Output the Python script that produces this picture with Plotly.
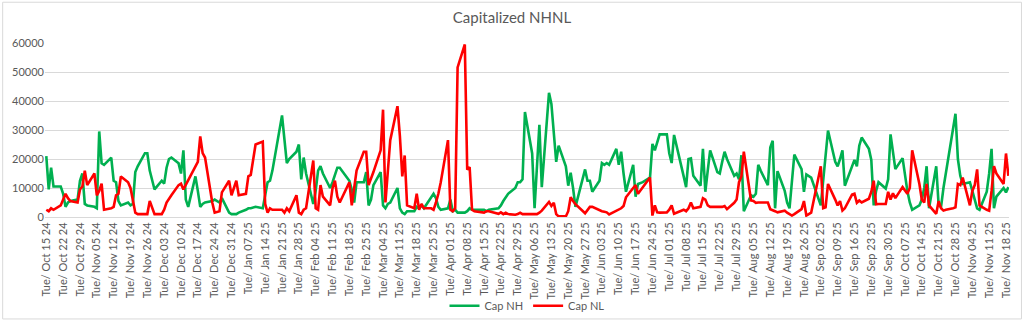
import pandas as pd
import plotly.graph_objects as go

# ---- data (one line per week, trading days only) ----
cap_nh = [
    21000, 9500, 17000, 10500,
    10500, 8000, 3500, 5000, 5500,
    6000, 12500, 15000, 4500, 4000,
    3500, 3000, 29500, 18500, 18000,
    20500, 12500, 12000, 5500, 4000,
    5000, 4000, 4500, 15500, 17500,
    22000, 22000, 16000, 9500,
    12500, 11500, 17000, 20000, 20500,
    18500, 15000, 23000, 6000, 3500,
    14000, 9000, 3500, 4500, 5000,
    5500, 6000, 5000, 6500,
    1500, 1000, 1000, 1500,
    2500, 3000, 3000, 3500,
    3000, 8000, 12000, 12500, 16000,
    35000, 27000, 18600, 20000,
    22500, 25000, 13000, 20500, 15000,
    4500, 9000, 16000, 17500, 15000,
    10000, 12000, 14500, 17000, 17000,
    12500, 9500, 5000, 12000,
    12000, 15500, 4000, 6000, 11000,
    15500, 4000, 3000, 4500, 5000,
    10000, 3000, 1500, 1000, 2000,
    2000, 3500, 3000, 4000, 3000,
    7000, 8000, 6500, 3500, 2500,
    3000, 6000, 2000, 2500, 1500,
    1500, 2000, 3000, 2500, 2500,
    2500, 2500, 2000, 2500,
    3000, 4000, 5500, 7000, 8000,
    10000, 12000, 12000, 13000, 36200,
    21900, 3000, 17000, 31800, 10300,
    42800, 39000, 29000, 19000, 24600,
    17500, 10800, 15300, 10000, 3500,
    16400, 12500, 12500, 8700,
    12500, 18600, 18000, 18600, 18000,
    23500, 18000, 22500, 15000, 8700,
    18000, 7000, 11400, 12000,
    13600, 25200, 23000, 26000, 28500,
    28500, 22000, 18600, 28300,
    14000, 10300, 20000, 20200, 14200,
    10800, 23500, 8700, 16000, 23000,
    15500, 15000, 19000, 22500, 20000,
    14200, 15000, 13000, 21300, 2000,
    7500, 7000, 8000, 18000, 16000,
    11000, 24000, 26300, 3000, 15800,
    9000, 5000, 3000, 12000, 21500,
    16500, 8700, 14700, 14000, 13600,
    4000, 12000, 22000, 29800,
    19000, 17500, 20000, 23000, 10800,
    17500, 19700, 17500, 24600, 27400,
    23500, 19700, 4000, 9000, 12000,
    9800, 13000, 28500, 22000, 16500,
    20300, 14200, 9000, 5000, 2500,
    4000, 6000, 10000, 17500, 3000,
    17500, 4000, 3500, 10000, 15300,
    31000, 35600, 20000, 14200, 11400,
    12000, 9000, 6000, 3000, 2500,
    8700, 15000, 23500, 3000, 7000,
    10000, 8500, 10300,
]

cap_nl = [
    2500, 2000, 3000, 2500,
    4000, 6000, 8000, 6500, 5500,
    5000, 9500, 10500, 16000, 11000,
    15000, 7500, 9000, 11500, 2500,
    3000, 3500, 7500, 8000, 14000,
    12000, 10000, 6000, 1500, 1000,
    1000, 1000, 5500, 1000,
    1000, 2500, 5000, 6500, 7500,
    11000, 11500, 9500, 11000, 12500,
    17000, 19000, 27800, 22000, 20500,
    5000, 1500, 2000, 8500,
    12500, 7500, 12500, 7500,
    8000, 14000, 14500, 25000,
    26000, 4500, 1500, 3000, 2500,
    2500, 1500, 3000, 2000,
    7500, 1500, 1000, 2500, 3000,
    19500, 3000, 2500, 11000, 7000,
    4000, 10000, 12500, 7000, 5000,
    12000, 4000, 11000, 16000,
    22500, 22500, 11000, 13000, 15500,
    23000, 37000, 5000, 16000, 26500,
    38200, 28000, 14000, 21200, 4000,
    3000, 8000, 2500, 4500, 3000,
    3000, 2500, 5000, 8000, 12000,
    26500, 2500, 2000, 3000, 51600,
    59500, 16300, 17200, 2500, 2000,
    1500, 1500, 2000, 2000,
    1100, 1600, 1000, 1500, 1000,
    800, 1000, 1500, 1000, 1000,
    900, 900, 1000, 1500, 2200,
    5200, 3800, 4900, 1000, 200,
    200, 2000, 6800, 5500, 4400,
    1300, 2500, 3500, 3500,
    2200, 2000, 1800, 1600, 900,
    2000, 2500, 3000, 3800, 6800,
    10000, 11000, 8000, 10300,
    13600, 500, 4000, 1600, 1500,
    1600, 2500, 4000, 1100,
    2500, 2000, 3000, 5000, 3000,
    3500, 6500, 6000, 4000, 3500,
    3500, 3500, 3500, 3800, 2700,
    4900, 6000, 12000, 14000, 22500,
    5700, 5500, 4900, 5000, 5000,
    5000, 2700, 2200, 2000, 1600,
    2200, 1500, 1000, 500, 1000,
    2700, 5500, 500, 1000, 1500,
    17500, 3000, 3300, 11400,
    6000, 4000, 5500, 2200, 3000,
    7700, 8000, 4900, 5700, 5000,
    6300, 8700, 12500, 4400, 4500,
    4500, 8700, 6000, 8200, 6500,
    10300, 9000, 8000, 10000, 23000,
    11400, 6000, 5000, 11400, 4000,
    1100, 5500, 3000, 2200, 2500,
    3000, 3300, 11400, 11000, 13600,
    4000, 9000, 11000, 16400, 4000,
    2500, 2200, 9000, 17500, 15000,
    11400, 21900, 14200,
]

market_holidays = ["2024-11-28", "2024-12-25", "2025-01-01", "2025-01-09", "2025-01-20",
                   "2025-02-17", "2025-04-18", "2025-05-26", "2025-06-19", "2025-07-04",
                   "2025-09-01"]
first_day, last_day = "2024-10-15", "2025-11-19"

days = pd.bdate_range(first_day, last_day)
days = days[~days.isin(pd.to_datetime(market_holidays))]
n = min(len(days), len(cap_nh), len(cap_nl))
days = days[:n]

tick_days = pd.date_range("2024-10-15", "2025-11-18", freq="7D")
tick_labels = [f"Tue/ {d:%b %d %y}" for d in tick_days]

GREY_TXT = "#595959"
FONT = "Lato"

fig = go.Figure()
fig.add_trace(go.Scatter(x=days, y=cap_nh[:n], mode="lines", name="Cap NH",
                         line=dict(color="#00B050", width=2.6)))
fig.add_trace(go.Scatter(x=days, y=cap_nl[:n], mode="lines", name="Cap NL",
                         line=dict(color="#FF0000", width=2.6)))

fig.update_layout(
    width=1024, height=332,
    margin=dict(l=43, r=13, t=43, b=107),
    paper_bgcolor="white", plot_bgcolor="white",
    font=dict(family=FONT, color=GREY_TXT, size=11),
    title=dict(text="Capitalized NHNL", x=0.5, xanchor="center",
               y=1 - 18 / 332, yanchor="middle", yref="container",
               font=dict(family=FONT, size=15, color=GREY_TXT)),
    showlegend=True,
    legend=dict(orientation="h", x=0.5, xanchor="center", y=-0.51, yanchor="middle",
                font=dict(family=FONT, size=11, color=GREY_TXT), itemwidth=30,
                bgcolor="rgba(0,0,0,0)"),
    shapes=[dict(type="rect", xref="paper", yref="paper",
                 x0=-43 / 968 + 0.0005, x1=1 + 13 / 968 - 0.0005,
                 y0=-107 / 182 + 0.002, y1=1 + 43 / 182 - 0.002,
                 line=dict(color="#D9D9D9", width=1), fillcolor="rgba(0,0,0,0)",
                 layer="below")],
)

fig.update_xaxes(
    type="date",
    range=["2024-10-14 11:00", "2025-11-19 06:00"],
    tickmode="array", tickvals=tick_days, ticktext=tick_labels,
    tickangle=-90, tickfont=dict(family=FONT, size=11, color=GREY_TXT),
    showgrid=False, showline=True, linecolor="#D9D9D9", linewidth=1,
    ticks="", zeroline=False,
)
fig.update_yaxes(
    range=[0, 60000], dtick=10000, tickformat="d",
    showgrid=True, gridcolor="#D9D9D9", gridwidth=1,
    zeroline=False, showline=False, ticks="",
    tickfont=dict(family=FONT, size=11, color=GREY_TXT),
)

fig.write_html("out.html")
